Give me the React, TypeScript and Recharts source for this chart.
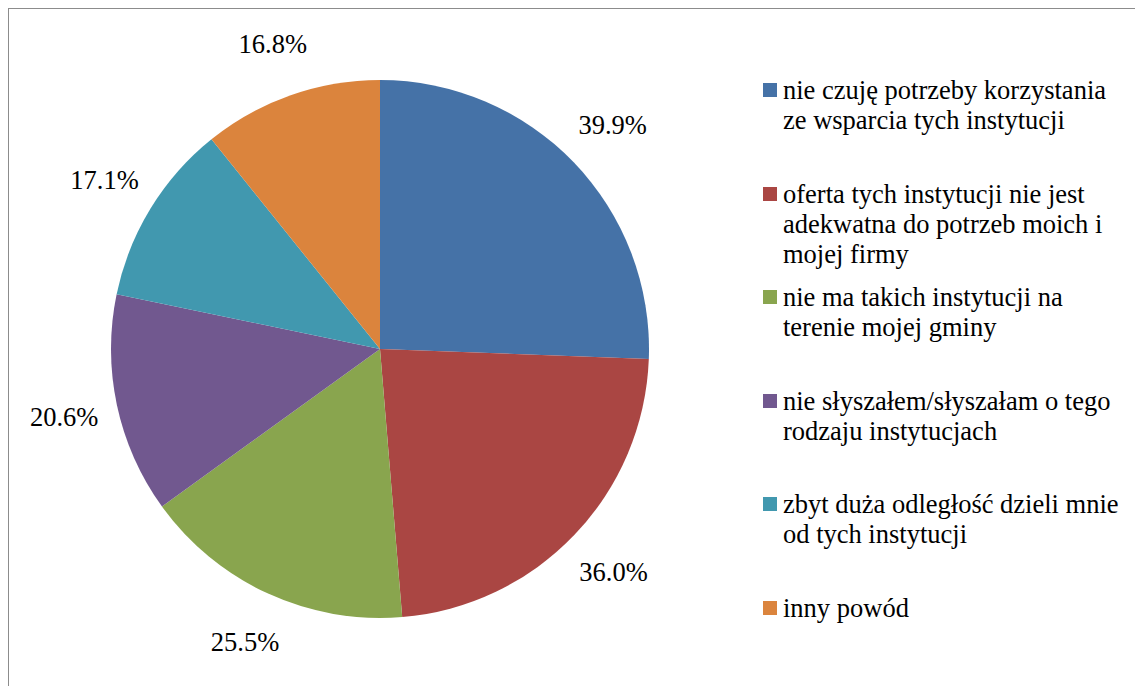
import { Cell, Legend, Pie, PieChart } from "recharts";

const reasons = [
  "nie czuję potrzeby korzystania\nze wsparcia tych instytucji",
  "oferta tych instytucji nie jest\nadekwatna do potrzeb moich i\nmojej firmy",
  "nie ma takich instytucji na\nterenie mojej gminy",
  "nie słyszałem/słyszałam o tego\nrodzaju instytucjach",
  "zbyt duża odległość dzieli mnie\nod tych instytucji",
  "inny powód",
];

const shares = [39.9, 36.0, 25.5, 20.6, 17.1, 16.8];

const colors = ["#4572A7", "#AA4643", "#89A54E", "#71588F", "#4198AF", "#DB843D"];

const FONT = "Liberation Serif";
const RADIAN = Math.PI / 180;

const data = reasons.map((name, i) => ({ name, value: shares[i] }));

const css = `
.serif-chart, .serif-chart * , .serif-chart text { font-family: "Liberation Serif", "Times New Roman", serif !important; }
`;

function renderLabel(props: any) {
  const { cx, cy, midAngle, outerRadius, value } = props;
  const r = outerRadius + 54;
  const x = cx + r * Math.cos(-midAngle * RADIAN);
  const y = cy + r * Math.sin(-midAngle * RADIAN);
  return (
    <text
      x={x}
      y={y}
      textAnchor="middle"
      dominantBaseline="central"
      style={{ fontFamily: FONT, fontSize: 26.5 }}
      fill="#000"
    >
      {`${value.toFixed(1)}%`}
    </text>
  );
}

function LegendList() {
  return (
    <div style={{ fontFamily: FONT, fontSize: 26.5, color: "#000" }}>
      {data.map((d, i) => (
        <div
          key={d.name}
          style={{ display: "flex", alignItems: "flex-start", height: 103.5 }}
        >
          <span
            style={{
              width: 14,
              height: 14,
              background: colors[i],
              marginTop: 8,
              marginRight: 6,
              flexShrink: 0,
            }}
          />
          <span style={{ whiteSpace: "pre-line", lineHeight: "30px" }}>{d.name}</span>
        </div>
      ))}
    </div>
  );
}

export default function App() {
  return (
    <div
      className="serif-chart"
      style={{
        width: 1150,
        height: 690,
        border: "1px solid #8c8c8c",
        background: "#fff",
        fontFamily: FONT,
      }}
    >
      <style>{css}</style>
      <PieChart width={1150} height={690} style={{ fontFamily: FONT }}>
        <Pie
          data={data}
          dataKey="value"
          nameKey="name"
          cx={366}
          cy={335}
          outerRadius={269}
          startAngle={90}
          endAngle={-270}
          stroke="none"
          label={renderLabel}
          labelLine={false}
          isAnimationActive={false}
        >
          {data.map((d, i) => (
            <Cell key={d.name} fill={colors[i]} />
          ))}
        </Pie>
        <Legend
          content={() => <LegendList />}
          wrapperStyle={{ left: 754, top: 66, width: 380 }}
        />
      </PieChart>
    </div>
  );
}
